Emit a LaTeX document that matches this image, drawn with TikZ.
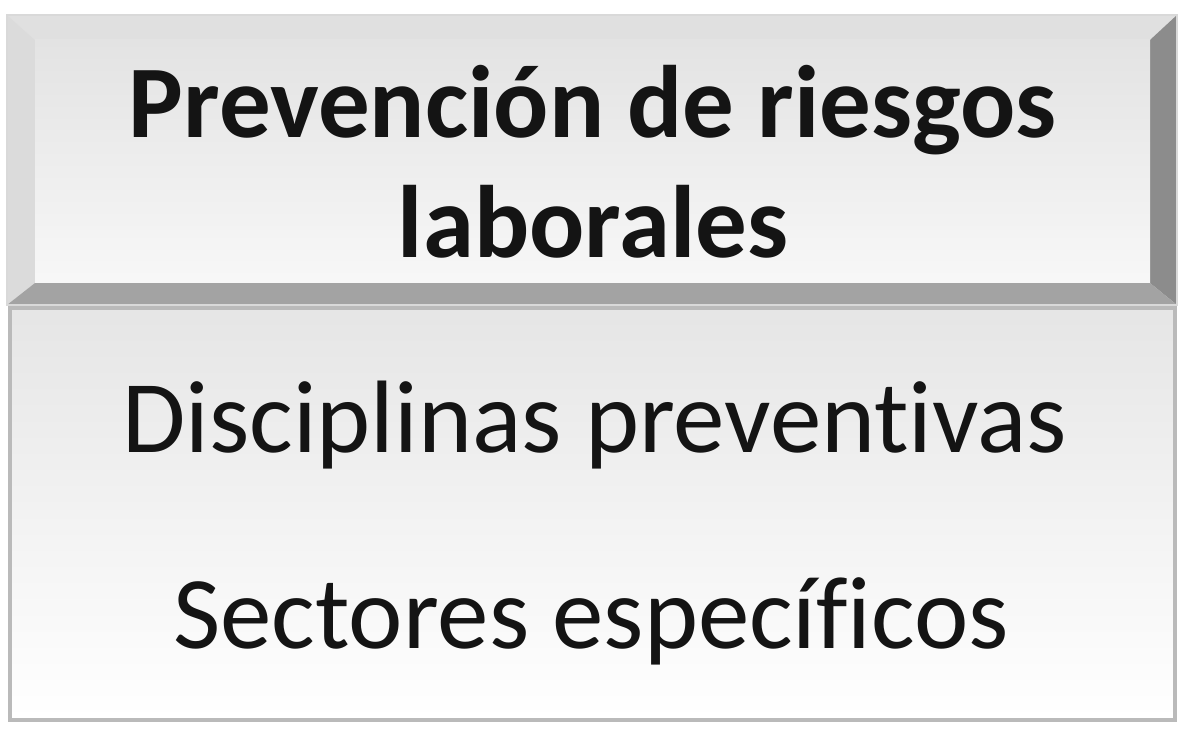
\documentclass[tikz,border=0pt]{standalone}
\usepackage{fontspec}
\setmainfont{Carlito}[Ligatures={NoCommon}]
\usepackage{tikz}

\begin{document}
\begin{tikzpicture}[
    texto/.style={font=\fontsize{29.3}{34.1}\selectfont, inner sep=0pt, text=black!92},
    bisel/.style={draw=none}
  ]
  \useasboundingbox (0,0) rectangle (12,-7.34);
  \fill[white] (0,0) rectangle (12,-7.34);

  % caja inferior
  \draw[draw=black!27, line width=1pt, top color=black!10, bottom color=white]
    (0.10,-3.08) rectangle (11.75,-7.20);

  % caja superior con bisel
  \fill[black!8] (0.07,-0.15) rectangle (11.77,-3.05);
  \fill[bisel, black!12] (0.07,-0.15) -- (11.77,-0.15) -- (11.50,-0.40) -- (0.35,-0.40) -- cycle;
  \fill[bisel, black!14] (0.07,-0.15) -- (0.35,-0.40) -- (0.35,-2.83) -- (0.07,-3.05) -- cycle;
  \fill[bisel, black!45] (11.77,-0.15) -- (11.77,-3.05) -- (11.50,-2.83) -- (11.50,-0.40) -- cycle;
  \fill[bisel, black!36] (0.07,-3.05) -- (11.77,-3.05) -- (11.50,-2.83) -- (0.35,-2.83) -- cycle;
  \shade[top color=black!11, bottom color=black!3] (0.35,-0.40) rectangle (11.50,-2.83);
  \draw[black!15, line width=0.6pt] (0.07,-0.15) rectangle (11.77,-3.05);

  \node[texto, font=\fontsize{29.3}{34.1}\selectfont\bfseries, align=center] (titulo) at (5.93,-1.62)
    {Prevención de riesgos\\laborales};

  \node[texto, anchor=base] (disciplinas) at (5.95,-4.53) {Disciplinas preventivas};
  \node[texto, anchor=base] (sectores) at (5.91,-6.49) {Sectores específicos};
\end{tikzpicture}
\end{document}
